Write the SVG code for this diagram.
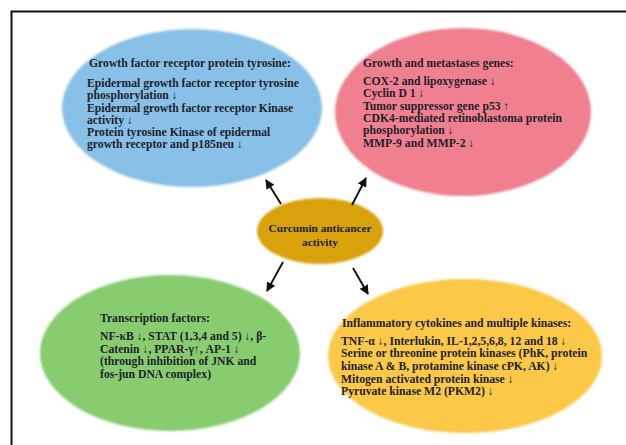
<svg xmlns="http://www.w3.org/2000/svg" width="626" height="445" viewBox="0 0 626 445">
<defs>
<marker id="ah" viewBox="0 0 10 10" refX="9" refY="5" markerWidth="5" markerHeight="5" orient="auto" markerUnits="strokeWidth">
<path d="M0,0 L10,5 L0,10 z" fill="#111"/>
</marker>
<filter id="soft" x="-5%" y="-5%" width="110%" height="110%">
<feGaussianBlur stdDeviation="0.8"/>
</filter>
<style>
.t{font-family:"Liberation Serif","Times New Roman",serif;font-weight:bold;font-size:11.7px;fill:#1d1f2b}
.c{text-anchor:middle;font-size:11.3px}
.e{stroke:none;filter:url(#soft)}
.a{stroke:#111;stroke-width:1.9;fill:none;marker-end:url(#ah)}
</style>
</defs>
<rect width="626" height="445" fill="#ffffff"/>
<path d="M11.5,445 V11.5 H626" fill="none" stroke="#111" stroke-width="2"/>
<g id="growth-factor">
<ellipse class="e" cx="192" cy="108" rx="130" ry="79" fill="#88c0e8"/>
<text class="t" x="89" y="67">Growth factor receptor protein tyrosine:</text>
<text class="t" x="87" y="87">Epidermal growth factor receptor tyrosine</text>
<text class="t" x="87" y="99">phosphorylation ↓</text>
<text class="t" x="87" y="112">Epidermal growth factor receptor Kinase</text>
<text class="t" x="87" y="124">activity ↓</text>
<text class="t" x="87" y="136"> Protein tyrosine Kinase of epidermal</text>
<text class="t" x="87" y="148">growth receptor and p185neu ↓</text>
</g>
<g id="metastases">
<ellipse class="e" cx="463" cy="112" rx="128" ry="84" fill="#f0808f"/>
<text class="t" x="363" y="67">Growth and metastases genes:</text>
<text class="t" x="363" y="85">COX-2 and lipoxygenase ↓</text>
<text class="t" x="363" y="97">Cyclin D 1 ↓</text>
<text class="t" x="363" y="110">Tumor suppressor gene p53 ↑</text>
<text class="t" x="363" y="122">CDK4-mediated retinoblastoma protein</text>
<text class="t" x="363" y="134">phosphorylation ↓</text>
<text class="t" x="363" y="147">MMP-9 and MMP-2 ↓</text>
</g>
<g id="transcription">
<ellipse class="e" cx="170" cy="353" rx="130" ry="78" fill="#88cc70"/>
<text class="t" x="100" y="322">Transcription factors:</text>
<text class="t" x="100" y="340">NF-κB ↓, STAT (1,3,4 and 5) ↓, β-</text>
<text class="t" x="100" y="353">Catenin ↓, PPAR-γ↑, AP-1 ↓</text>
<text class="t" x="100" y="365">(through inhibition of JNK and</text>
<text class="t" x="100" y="378">fos-jun DNA complex)</text>
</g>
<g id="inflammatory">
<ellipse class="e" cx="465" cy="356" rx="137" ry="77" fill="#fbc846"/>
<text class="t" x="342" y="327">Inflammatory cytokines and multiple kinases:</text>
<text class="t" x="341" y="345">TNF-α ↓, Interlukin, IL-1,2,5,6,8, 12 and 18 ↓</text>
<text class="t" x="341" y="357">Serine or threonine protein kinases (PhK, protein</text>
<text class="t" x="341" y="370">kinase A &amp; B, protamine kinase cPK, AK) ↓</text>
<text class="t" x="341" y="383">Mitogen activated protein kinase ↓</text>
<text class="t" x="341" y="395">Pyruvate kinase M2 (PKM2) ↓</text>
</g>
<g id="center">
<ellipse class="e" cx="320" cy="231" rx="63" ry="33" fill="#d9a20a"/>
<text class="t c" x="320" y="232">Curcumin anticancer</text>
<text class="t c" x="320" y="246">activity</text>
</g>
<g id="connectors">
<line class="a" x1="281" y1="204" x2="266" y2="180"/>
<line class="a" x1="352" y1="205" x2="366" y2="178"/>
<line class="a" x1="283" y1="262" x2="267" y2="291"/>
<line class="a" x1="353" y1="268" x2="368" y2="294"/>
</g>
</svg>
